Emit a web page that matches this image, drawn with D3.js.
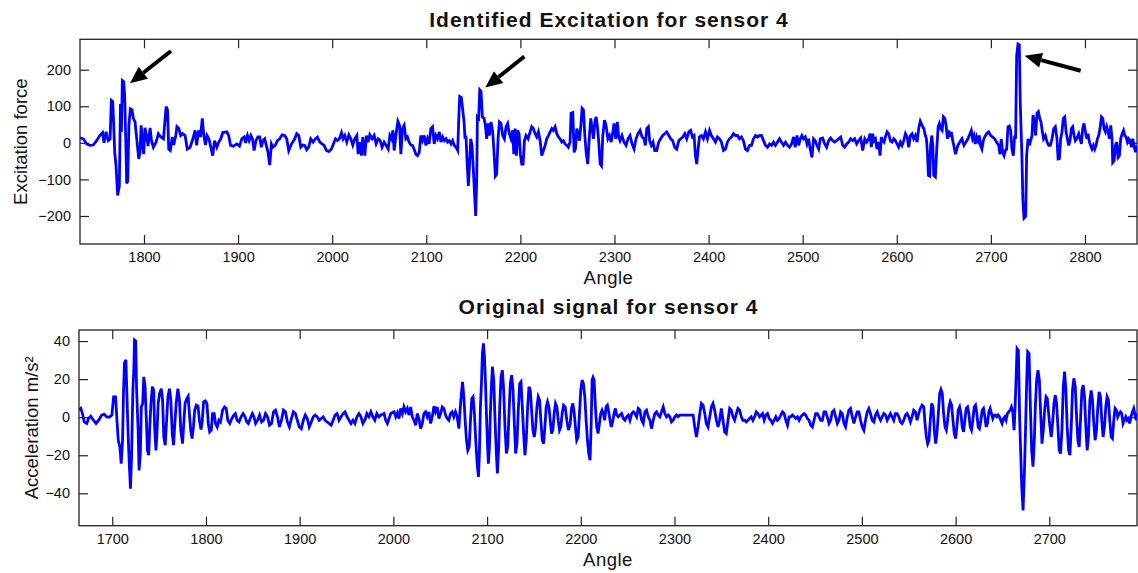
<!DOCTYPE html>
<html>
<head>
<meta charset="utf-8">
<script src="https://cdn.jsdelivr.net/npm/d3@7"></script>
<style>
  body { margin: 0; background: #fff; }
  svg { display: block; font-family: "Liberation Sans", Arial, sans-serif; }
  .tick text { fill: #111; }
</style>
</head>
<body>
<svg id="vis_canvas" width="1138" height="573"></svg>
<script>
// identified excitation, [angle, force]
var excitation = [
[1732,14],[1735.5,11],[1739,-3],[1742.6,-7],[1746,-6],[1749.7,6],[1753,20],[1756,28],[1757.5,0],[1759.7,30],[1762,6],[1764,11],[1765.3,116],[1766.8,113],[1767.8,48],[1768.9,-26],[1770.3,-63],[1772,-144],[1773.8,-118],[1775,106],[1776,30],[1777,170],[1778.5,167],[1779.5,127],[1780.6,11],[1781.6,-111],[1782.7,-105],[1784,48],[1785.5,93],[1787.3,90],[1788.7,67],[1790.5,57],[1792.3,11],[1794.4,-44],[1795.8,-26],[1797,48],[1798.3,2],[1799.7,-31],[1801,41],[1803,16],[1804.3,-9],[1806.5,41],[1808,6],[1810,-12],[1812.9,2],[1815.3,25],[1817.8,16],[1820.7,11],[1823.5,99],[1825,90],[1826.3,-17],[1828,-21],[1830,16],[1831.6,-6],[1833.8,20],[1835,44],[1837,39],[1839,20],[1841,25],[1843.7,20],[1846,-17],[1849,-12],[1852,11],[1854.3,34],[1856,-7],[1858,34],[1860,16],[1862,67],[1863.6,20],[1865.3,-6],[1867,20],[1869,11],[1871,-12],[1873,-35],[1875,6],[1877.4,-12],[1879.5,2],[1881.6,11],[1883.8,28],[1888,30],[1890,20],[1892,-7],[1895,-9],[1898.7,-3],[1901.5,-9],[1904,11],[1906.5,16],[1908,0],[1910,20],[1911.8,6],[1913.6,20],[1915.3,11],[1917,-21],[1919,6],[1921,16],
[1923,16],[1924.7,-12],[1926.5,6],[1928.3,11],[1930,-7],[1931.8,-26],[1933.6,-61],[1935.4,-3],[1937,-12],[1939.6,-6],[1941.8,6],[1944.2,11],[1946.7,22],[1949.6,20],[1951.7,11],[1953.8,-21],[1956,-7],[1958,2],[1960.2,11],[1962.3,25],[1964.5,20],[1966.6,-12],[1968.7,-6],[1970.9,-7],[1973,-19],[1975,-12],[1977.2,11],[1979.7,2],[1982.2,11],[1984.3,16],[1986.8,2],[1989.3,-3],[1991.4,-7],[1993.9,-21],[1996.4,-24],[1999.2,-17],[2001.3,-3],[2003.5,11],[2005.6,6],[2007.7,11],[2009.9,28],[2011.6,11],[2013.4,20],[2015.5,2],[2017.7,22],[2019.8,11],[2021.9,-6],[2024,11],[2026.2,20],[2027.6,-31],[2029.4,2],[2031.1,-35],[2032.5,16],[2034.7,-35],[2036.4,20],[2038.2,2],[2040,22],[2042.5,11],[2044.6,20],[2046.7,-3],[2048.9,11],[2051,6],[2053,-12],[2055.2,2],[2057.4,-7],[2059.5,-17],[2061.3,20],[2063,11],[2064.5,34],[2065.9,-21],[2067.7,20],[2069.8,59],[2071.6,48],[2073,-31],[2074.7,39],[2076.5,48],[2078.3,11],[2080,16],[2081.8,2],[2083.6,-6],[2085.4,-7],[2087,-17],[2088.9,-31],[2090.7,-35],[2092.5,-26],[2094.2,20],[2096,6],[2097.8,20],[2099.6,-7],[2101.3,11],[2103,-3],[2104.9,39],[2106.7,44],[2108.4,-3],[2110.2,20],
[2112,11],[2113.8,30],[2115.6,2],[2117.4,16],[2119.2,6],[2121,11],[2122.7,2],[2124.5,6],[2126.3,-3],[2128,6],[2129.8,-7],[2131.6,-12],[2133.4,-21],[2134.4,57],[2135.5,127],[2137.3,124],[2138.7,90],[2140,62],[2141.2,11],[2142.2,20],[2143.3,-49],[2144.7,-118],[2146.1,-54],[2147.2,11],[2148.6,-7],[2150,-72],[2151.4,-146],[2152.5,-200],[2153.6,-100],[2154.3,71],[2155.7,67],[2156.8,145],[2158.2,141],[2159.6,71],[2161.4,67],[2162.8,48],[2164.2,11],[2165.6,53],[2167,20],[2168.8,57],[2170.6,30],[2172,-26],[2173.4,-91],[2174.8,-86],[2176.3,11],[2177.7,57],[2179.4,53],[2181.2,20],[2183,11],[2184.8,44],[2186.5,53],[2188.3,25],[2190,11],[2191.9,34],[2193,-31],[2194.4,39],[2195.8,-35],[2197.2,34],[2198.6,25],[2200,-31],[2201.4,-58],[2202.9,-58],[2204.3,6],[2206,20],[2208.2,11],[2210.3,30],[2212,44],[2213.8,39],[2215.6,25],[2217.4,16],[2219.2,30],[2221,6],[2222.7,-35],[2224.5,-21],[2226.3,-7],[2228,11],[2229.8,20],[2231.6,30],[2233.4,39],[2235,34],[2236.9,44],[2238.7,25],[2240.4,16],[2242.2,11],[2244,2],[2245.8,6],[2247.5,-3],[2249.3,-7],[2251,-12],[2252.8,2],[2253.9,81],[2255.7,83],[2257.1,-26],[2258.5,-17],[2260,39],[2261.4,25],[2262.8,6],[2264.2,44],[2265.6,94],[2267,90],[2268.5,20],[2269.9,-26],[2271.6,-58],[2273.4,20],[2274.8,67],[2276.2,39],[2277.7,11],[2279.1,57],[2280.5,71],[2281.9,44],[2283.3,2],[2284.8,-58],[2286.2,-63],[2287.6,20],[2289.4,62],[2291,48],[2293,11],[2294.7,20],[2296.5,2],[2298.3,30],
[2299.5,53],[2301.3,11],[2303,57],[2304.5,16],[2305.9,6],[2308,20],[2310.1,2],[2312.3,-7],[2314.4,11],[2316.5,20],[2318.7,-3],[2320.8,-17],[2322.9,11],[2325,25],[2327.2,34],[2329.3,16],[2331.4,11],[2332.8,-7],[2334.3,39],[2336,44],[2337.4,6],[2339.2,-7],[2341,2],[2342.8,-21],[2344.9,-21],[2347,2],[2349.1,11],[2351.3,20],[2353.4,25],[2355.5,30],[2357.7,20],[2359.8,11],[2361.9,6],[2364,-12],[2366.2,-17],[2368.3,6],[2370.4,11],[2372.6,16],[2374.7,25],[2376.8,11],[2379,30],[2381,34],[2382.8,16],[2384.6,20],[2386,-35],[2387.4,-58],[2388.9,-17],[2390.3,16],[2392.4,20],[2394.5,11],[2396.7,30],[2398.8,11],[2401,34],[2403,20],[2405.2,11],[2407.3,2],[2409.4,16],[2411.6,11],[2413.7,2],[2415.8,-21],[2418,-17],[2420,2],[2422.2,11],[2424.3,16],[2426.5,25],[2428.6,20],[2430.7,20],[2432.8,11],[2435,16],[2437,6],[2439.2,-17],[2441.3,-21],[2443.5,-7],[2445.6,-7],[2447.7,11],[2449.9,20],[2452,16],[2454.1,20],[2456.2,20],[2458.4,6],[2460.5,-7],[2462.6,-12],[2464.8,-3],[2466.9,-7],[2469,2],[2471.1,-7],[2473.3,2],[2475.4,11],[2477.5,2],[2479.7,-7],[2481.8,2],[2484,-7],[2486,-12],[2488.2,-3],
[2490.4,16],[2492.1,-12],[2494,20],[2495.7,-7],[2497.5,11],[2499.2,20],[2501,11],[2502.8,16],[2504.6,-3],[2506.3,11],[2508,-17],[2509.9,-40],[2511.6,11],[2513.4,6],[2515.2,-7],[2517,-17],[2518.7,11],[2521.2,13],[2523.4,-3],[2525.5,-12],[2527.6,6],[2529.7,13],[2531.9,6],[2534,2],[2536.1,6],[2538.2,11],[2540.4,16],[2542.5,-6],[2544.6,-12],[2546.8,-3],[2548.9,2],[2551,11],[2553.1,6],[2555.3,11],[2557.4,-3],[2559.5,6],[2561.7,13],[2563.8,-21],[2566,11],[2568,2],[2570.2,11],[2571.6,25],[2573,-12],[2574.4,25],[2575.8,6],[2577.3,11],[2579,-17],[2580.8,2],[2582.2,-35],[2583.6,16],[2585,6],[2586.5,2],[2587.9,16],[2589.7,30],[2591.4,25],[2593.2,6],[2595,2],[2596.8,11],[2598.5,6],[2600.3,-3],[2602,-12],[2603.9,2],[2605.6,-7],[2607.4,6],[2609.2,25],[2611,16],[2612.7,-12],[2614.5,20],[2616.3,25],[2618,11],[2619.8,20],[2621.6,2],[2623.3,39],[2625,59],[2626.9,48],[2628.7,39],[2630.4,20],[2631.5,11],[2632.6,-26],[2633.6,-89],[2635,-91],[2636,-7],[2637.2,20],[2638.3,-7],[2639.3,-89],[2641,-93],[2642.5,-17],[2644,44],[2645.3,53],[2646.8,39],[2648.2,34],[2649.6,71],[2651,67],[2652.4,48],[2653.9,11],[2655.3,34],[2656.7,16],[2658,30],[2659.5,6],[2661,-12],[2662.4,-31],[2663.8,-17],
[2665,-7],[2667,2],[2669.3,11],[2671.4,-7],[2673.5,2],[2675.6,11],[2677.8,25],[2679.2,34],[2680.6,11],[2682,20],[2683.4,-3],[2684.9,16],[2686.3,6],[2687.7,20],[2689,-7],[2690.5,-17],[2692,6],[2693.4,16],[2695.5,25],[2697.6,30],[2699.8,20],[2702,16],[2704,11],[2706,2],[2708.3,-7],[2709.7,-31],[2711,11],[2712.5,-26],[2714,-35],[2715.4,-21],[2716.8,-17],[2718.2,44],[2719.6,46],[2721,34],[2722.4,-17],[2723.9,-35],[2725.3,20],[2726.3,11],[2727.4,238],[2728.8,270],[2730.2,268],[2731.3,104],[2732.4,11],[2733,-35],[2734,-156],[2735.2,-206],[2737,-201],[2738,-35],[2739.5,11],[2740.9,-7],[2742.3,6],[2743.7,20],[2744.8,76],[2746.2,57],[2747.6,20],[2749,81],[2750.5,85],[2751.9,67],[2753.3,57],[2754.7,30],[2756,11],[2757.9,20],[2759.7,2],[2761.5,-7],[2763.2,-7],[2765,11],[2766.8,39],[2768.5,44],[2770.3,11],[2771.4,-44],[2772.8,-43],[2774.2,11],[2775.6,30],[2777,67],[2778.5,71],[2779.9,30],[2781.3,11],[2782.7,-7],[2784.1,6],[2785.6,39],[2787,44],[2788.4,20],[2789.8,6],[2791.2,11],[2793.4,25],[2794.8,11],[2796.2,-3],[2797.6,39],[2799,53],[2800.5,30],[2801.9,11],[2803.3,25],[2804.7,2],[2806,-7],[2807.5,-17],[2809,-7],[2810.4,-17],[2811.8,-7],[2813.2,11],[2814.6,20],[2816,39],[2817.5,71],[2818.9,67],[2820.3,39],[2821.7,30],[2823.1,44],[2824.6,30],[2826,11],[2827.4,48],[2828.8,11],[2829.5,-54],[2831,-49],[2832.4,-7],[2833.8,2],[2835.2,-40],[2836.6,-35],[2838,11],[2839.5,25],[2841,34],[2842.3,20],[2843.7,16],[2845.1,2],[2846.5,11],[2848,6],[2849.4,-12],[2850.8,11],[2852.2,-7],[2853.6,-26],[2855,-7]
];

// measured acceleration, [angle, m/s^2]
var acceleration = [
[1664.7,3.7],[1666.4,4.6],[1668.2,1.9],[1670,-2.5],[1672.8,-3.3],[1674.6,-0.7],[1677,0.5],[1679.9,-1.6],[1682.7,-3.3],[1685.5,-1.6],[1688.7,1.1],[1691.2,1.6],[1694,0.2],[1696.8,0],[1699.6,1.1],[1701.4,10.7],[1703.5,10.7],[1705,-1.6],[1706.4,-12.1],[1708.1,-15.6],[1709.5,-24.4],[1711,-12.1],[1712,13.3],[1713,28.4],[1714.5,30.2],[1715.5,14.2],[1717,-10.4],[1718,-22.6],[1719.4,-37.5],[1720.5,-22.6],[1722,14.2],[1723,24.7],[1723.7,40.5],[1725,40],[1726,14.2],[1727.6,-6.8],[1728.6,-28],[1730,-19.1],[1731,5.4],[1732.5,7.2],[1733.6,21.2],[1735,16],[1736.4,-1.6],[1737.5,-17.4],[1738.9,-20],[1740,-5.1],[1741.3,7.2],[1742.8,16],[1744.2,14.2],[1745.2,-5.1],[1746.6,-17.4],[1747.7,-8.6],[1749,7.2],[1750.5,12.5],[1752.3,15],[1753.7,9],[1755,-10.4],[1756.5,-14.7],[1758,-1.6],[1759.4,10.7],[1761,15],[1762.5,9],[1764,-8.6],[1765.4,-14.7],[1766.8,-3.3],[1768.2,7.2],[1770,15],[1771.7,9],[1773.1,-6.8],[1775,-13.9],[1776.3,-3.3],[1777.7,7.2],[1779.5,9.8],[1781,11],[1782.3,1.9],[1783.7,-6.8],[1785.2,-11.2],[1786.6,-5.1],[1788,3.7],[1789.8,6.3],[1791.5,5.8],[1793,-1.6],[1794.7,-6.5],[1796.1,-1.6],[1797.5,8.1],[1799.3,8.6],[1801,7.2],[1802.5,-3.3],[1804,-7.7],[1805.7,-6.8],[1807,1.9],[1808.8,1.9],[1810.2,-3.3],[1812,-5.1],[1813.8,-1.6],[1815.5,-2.5],[1817.7,3.7],[1819.8,5.4],[1821.6,4.6],[1823.3,-1.6],[1825.4,-3.3],[1827.6,-0.7],[1829.7,1.1],[1831.4,1.9],[1833.2,-1.6],[1835.3,-2.5],
[1837.5,0.2],[1839.6,1.9],[1841.7,0.2],[1843.5,-2.5],[1845.2,-3.3],[1847.3,-0.7],[1849.5,1.9],[1851.2,0.2],[1853,-3.3],[1855.1,-1.6],[1857.2,1.1],[1859.4,-2.5],[1861.5,-1.6],[1863.6,1.9],[1865.7,0.2],[1867.8,-4.2],[1870,-3.3],[1872.1,2.8],[1874.2,3.7],[1876.3,0.2],[1878.4,-5.1],[1880.6,-1.6],[1882.7,3.7],[1884.8,2.8],[1886.9,-2.5],[1889,-5.1],[1891.2,-0.7],[1893.3,2.8],[1895.4,1.9],[1897.5,-1.6],[1899.6,-5.1],[1901.8,-6],[1903.9,-1.6],[1906,1.1],[1908.1,-0.7],[1910.2,-5.1],[1912.4,-2.5],[1914.5,0.2],[1916.6,1.1],[1918.7,0.2],[1920.8,-1.6],[1923,-0.7],[1925.1,0.2],[1927.2,-1.6],[1929.3,-2.5],[1931.4,-3.3],[1933.6,-4.2],[1935.7,-1.6],[1937.8,1.1],[1939.9,1.9],[1942,-1.6],[1944.2,0.2],[1946.3,1.9],[1948.4,2.8],[1950.5,0.2],[1952.7,-1.6],[1954.8,-3.3],[1956.9,-1.6],[1959,-3.3],[1961.1,0.2],[1963.3,1.9],[1965.4,0.2],[1967.5,-3.3],[1969.6,-1.6],[1971.7,1.9],[1973.9,0.2],[1976,2.8],[1978.1,0.2],[1980.2,-1.6],[1982.3,1.9],[1984.5,0.2],
[1986.5,1.1],[1990.1,1.9],[1991.8,-1.6],[1993.6,-3.3],[1997.2,1.9],[2000.7,2.8],[2002.5,0.2],[2004.3,2.3],[2006,-0.7],[2007.8,4.6],[2009.6,1.9],[2011.3,5.4],[2013.1,2.8],[2014.9,4.6],[2016.7,1.1],[2018.4,5.4],[2020.2,0.2],[2022,-1.6],[2023.8,-4.2],[2025.5,1.9],[2027.3,-0.7],[2029.1,-6],[2030.9,-3.3],[2032.6,1.9],[2034.4,2.8],[2036.2,0.2],[2037.9,2.8],[2039.7,-3.3],[2041.5,0.2],[2043.3,5.8],[2045,2.8],[2046.8,5.4],[2048.6,-0.7],[2050.4,1.9],[2052.1,5.4],[2053.9,4.6],[2055.7,1.1],[2057.4,-0.7],[2059.2,-1.6],[2061,1.9],[2062.8,2.8],[2064.5,0.2],[2066.3,2.8],[2068.1,0.2],[2069.9,-6],[2070.9,1.9],[2072.3,10.7],[2073.8,18.6],[2075.2,10.7],[2076.6,-1.6],[2078,-12.1],[2079.4,-17.4],[2080.9,-15.6],[2082.3,-1.6],[2083.7,9.8],[2085.1,10.7],[2086.5,1.9],[2087.9,-12.1],[2089.4,-24.4],[2090.8,-31.4],[2091.8,-19.1],[2092.9,5.4],[2094,17.7],[2095,33.5],[2096.1,38.8],[2097.2,31.8],[2098.2,19.5],[2099.3,1.9],[2100.4,-13.9],[2101.4,-24.4],[2102.5,-15.6],[2103.5,1.9],[2104.6,16],[2105.7,26.5],[2107.1,19.5],[2108.5,-1.6],[2109.9,-19.1],[2111,-29.6],[2112.4,-15.6],[2113.5,5.4],[2114.9,21.2],[2116.3,24.7],[2117.7,14.2],[2119.1,-5.1],[2120.6,-19.1],[2122,-15.6],[2123.4,1.9],[2124.8,17.7],[2126.2,22.1],[2127.7,14.2],[2129.1,-3.3],[2130.5,-19.1],[2131.9,-13.9],[2133.3,3.7],[2134.8,17.7],[2136.2,18.6],[2137.6,5.4],[2139,-8.6],[2140.4,-20],[2141.8,-12.1],[2143.3,5.4],[2144.7,16],[2146.1,14.2],[2147.5,3.7],[2148.9,-6.8],[2150.4,-10.4],[2151.8,-5.1],[2153.2,5.4],[2154.6,10.7],[2156,9],[2157.4,-1.6],[2158.9,-12.1],[2160.3,-13.9],[2161.7,-5.1],[2163.1,5.4],[2164.5,8.1],[2166,5.4],[2167.4,-1.6],[2168.8,-8.6],[2170.2,-6.8],[2171.6,1.9],[2173,7.2],[2174.5,5.4],[2175.9,-1.6],[2177.3,-6.8],[2178.7,-5.1],[2180.1,1.9],[2181.6,6.3],[2183.3,5.4],[2185.1,-1.6],[2186.9,-6.8],[2188.7,-3.3],[2190.1,4.6],[2191.5,7.2],[2192.9,2.8],[2194.3,-5.1],[2195.7,-12.1],[2197.2,-10.4],[2198.6,1.9],[2200,14.2],[2201.4,19.5],[2202.8,17.7],[2204.3,10.7],[2205.7,-1.6],[2207.1,-12.1],[2208.5,-19.1],[2209.9,-22.6],[2211,-5.1],[2212.1,19.5],[2213.1,20.9],[2214.2,19.5],[2215.6,5.4],[2217,-5.1],[2218.4,-8.6],[2219.9,-3.3],[2221.3,1.9],[2222.7,3.7],[2224.1,1.9],[2225.5,-1.6],[2227,5.4],[2228.4,6.3],[2229.8,2.8],[2231.2,-1.6],[2232.6,-5.1],[2234,-2.5],[2235.5,1.9],[2236.9,4.6],[2238.3,1.1],[2240.1,0.2],[2241.8,1.1],[2243.6,1.9],[2245.4,-0.7],[2247.2,-1.6],[2248.9,0.2],[2250.7,1.1],[2252.5,-1.6],[2254.3,1.9],[2256,2.8],[2257.8,1.9],[2259.6,0.2],[2261.3,4.6],[2263.1,3.7],[2264.9,-1.6],[2266.7,-3.3],[2268.4,2.8],[2270.2,3.7],[2272,0.2],[2273.8,-1.6],[2275.5,-6],[2277.3,-1.6],[2279.1,1.9],[2280.9,2.8],[2282.6,1.1],[2284.4,0.2],[2286.2,2.8],[2288,5.4],[2289.7,1.9],[2291.5,0.2],[2293.3,1.1],[2295,0.2],[2296.8,-2.5],[2298.6,-1.6],[2300.4,0.2],[2302.1,1.1],[2303.9,0.2],[2305.7,1.1],[2319.9,1.1],[2321.6,-5.1],[2323.4,-10.4],[2325.2,-5.1],[2327,1.9],[2328.7,7.2],[2330.5,6.3],[2332.3,1.9],[2334,-3.3],[2335.8,-5.1],[2337.6,0.2],[2339.4,5.4],[2341.1,7.2],[2342.9,3.7],[2344.7,-1.6],[2346.5,-5.1],[2348.2,-1.6],[2350,4.6],[2351.8,-1.6],[2353.5,-7.7],[2355.3,-8.6],[2357.1,-1.6],[2358.9,4.6],[2360.6,3.7],[2362.4,0.2],[2364.2,-1.6],[2366,1.9],[2367.7,4.6],[2369.5,3.7],[2371.3,0.2],[2373,-1.6],[2374.8,-1.6],[2376.6,-2.5],[2378.4,-1.6],[2380.1,-0.7],[2381.9,0.2],[2383.7,-1.6],[2385.5,0.2],[2387.2,2.8],[2389,1.9],[2390.8,0.2],
[2394,1.9],[2395.7,-1.6],[2397.5,1.1],[2399.3,1.9],[2401.1,-0.7],[2402.8,-1.6],[2404.6,-3.3],[2406.4,-1.6],[2408.2,0.2],[2409.9,-1.6],[2411.7,-0.7],[2413.5,1.1],[2415.2,2.8],[2417,1.9],[2418.8,-1.6],[2420.6,-4.2],[2422.3,0.2],[2424.1,0.2],[2425.9,1.1],[2427.7,0.2],[2429.4,-0.7],[2431.2,0.2],[2433,-1.6],[2434.8,0.2],[2436.5,1.1],[2438.3,1.9],[2440.1,1.1],[2441.8,-0.7],[2443.6,-1.6],[2445.4,-4.2],[2447.2,-5.1],[2448.9,-1.6],[2450.7,1.9],[2452.5,1.9],[2454.3,0.2],[2456,-1.6],[2457.8,-1.6],[2459.6,2.8],[2461.3,2.8],[2463.1,0.2],[2464.9,-3.3],[2466.7,-1.6],[2468.4,2.8],[2470.2,3.7],[2472,0.2],[2473.8,-3.3],[2475.5,-1.6],[2477.3,2.8],[2479.1,1.9],[2480.9,-3.3],[2482.6,-5.1],[2484.4,0.2],[2486.2,3.7],[2487.9,4.6],[2489.7,0.2],[2491.5,-3.3],[2493.3,0.2],[2495,2.8],[2496.8,2.8],[2498.6,-1.6],[2500.4,-5.1],[2502.1,-6.8],[2503.9,-1.6],[2505.7,2.8],[2507.4,4.6],[2509.2,1.9],[2511,-1.6],[2512.8,-2.5],[2514.5,1.1],[2516.3,2.8],[2518.1,0.2],[2519.9,-1.6],[2521.6,0.2],[2523.4,1.9],[2525.2,1.1],[2527,-1.6],[2528.7,0.2],[2530.5,1.9],[2532.3,0.2],[2534,-1.6],[2535.8,1.9],[2537.6,1.9],[2539.4,0.2],[2541.1,-2.5],[2542.9,-3.3],[2544.7,-1.6],[2546.5,1.1],[2548.2,1.9],[2550,0.2],[2551.8,-2.5],[2553.5,0.2],[2555.3,3.7],[2557.1,2.8],[2558.9,-1.6],[2560.6,1.9],[2562.4,4.6],[2564.2,6.3],[2566,5.4],[2567.4,-3.3],[2568.8,-10.4],[2570.2,-13.9],[2571.6,-12.1],[2573,-1.6],[2574.5,7.2],[2575.9,5.4],[2577.3,-6.8],[2578.7,-13.9],[2580.1,-8.6],[2581.6,1.9],[2583,12.5],[2584.4,14.6],[2585.8,12.5],[2587.2,1.9],[2588.7,-5.1],[2590.1,-6.8],[2591.5,-1.6],[2592.9,5.4],[2594.3,8.1],[2595.7,6.3],[2597.2,-1.6],[2598.6,-8.6],[2600,-11.2],[2601.4,-5.1],[2602.8,3.7],[2604.3,5.4],[2605.7,1.9],[2607.1,-5.1],[2608.5,-7.7],[2609.9,-1.6],[2611.3,4.6],[2612.8,5.4],[2614.2,1.9],[2615.6,-5.1],[2617,-6.8],[2618.4,-1.6],[2619.9,5.4],[2621.3,6.3],[2622.7,1.9],[2624.1,-5.1],[2625.5,-6],[2627,-1.6],[2628.4,3.7],[2629.8,4.6],[2631.2,0.2],[2632.6,-5.1],[2634,-3.3],[2635.5,2.8],[2636.9,4.6],[2638.3,1.9],[2639.7,-0.7],[2641.1,1.1],[2642.6,1.1],[2644,0.2],[2645.4,1.1],[2646.8,0.2],[2648.2,-1.6],[2649.6,-3.3],[2651.1,-0.7],[2652.5,0.2],[2653.9,-1.6],[2655.3,1.9],[2656.7,2.8],[2658.2,3.7],[2659.6,5.4],[2661,2.8],[2662.4,-6.8],[2663.5,5.4],[2664.5,19.5],[2665.6,36],[2667,35],[2668.4,-1.6],[2669.5,-19.1],[2670.6,-36.7],[2672,-49],[2673.4,-29.6],[2674.8,-3.3],[2675.9,19.5],[2676.9,34.4],[2678.4,33.5],[2679.8,5.4],[2681.2,-17.4],[2682.6,-26],[2684,-12.1],[2685.1,5.4],[2686.5,19.5],[2687.9,24.7],[2689.4,19.5],[2690.8,1.9],[2692.2,-13.9],[2693.6,-6.8],[2695,3.7],[2696.5,10.7],[2697.9,9.8],[2699.3,1.9],[2700.7,-5.1],[2702.1,-10.4],[2703.5,-3.3],[2705,7.2],[2706.4,11.6],[2707.8,7.2],[2709.2,-5.1],[2710.6,-17.4],[2712,-19.1],[2713.5,-6.8],[2714.9,16],[2716.3,23.9],[2717.7,14.2],[2719.1,-5.1],[2720.6,-17.4],[2722,-20],[2723.4,-5.1],[2724.8,14.2],[2726.2,20.4],[2727.7,16],[2729.1,0.2],[2730.5,-12.1],[2731.9,-15.6],[2733.3,-1.6],[2734.8,14.2],[2736.2,16.8],[2737.6,10.7],[2739,-5.1],[2740.4,-17.4],[2741.8,-10.4],[2743.3,9],[2744.7,14],[2746.1,9],[2747.5,-3.3],[2748.9,-12.1],[2750.4,-6.8],[2751.8,5.4],[2753.2,13.3],[2754.6,10.7],[2756,-1.6],[2757.4,-10.4],[2758.9,-5.1],[2760.3,5.4],[2761.7,10.7],[2763.1,9],[2764.5,-1.6],[2766,-10.4],[2767.4,-11.2],[2768.8,-1.6],[2770.2,4.6],[2771.6,3.7],[2773,0.2],[2774.5,1.9],[2775.9,2.8],[2777.3,1.9],[2778.7,-3.3],[2780.1,-1.6],[2781.6,0.2],[2783,-1.6],[2784.4,-0.7],[2785.8,-3.3],[2787.2,0.2],[2788.7,2.8],[2790.1,4.6],[2791.5,1.1],[2792.9,-1.6],[2794.3,2]
];

// axis ticks
var excTicksX = [1800, 1900, 2000, 2100, 2200, 2300, 2400, 2500, 2600, 2700, 2800];
var excTicksY = [-200, -100, 0, 100, 200];
var accTicksX = [1700, 1800, 1900, 2000, 2100, 2200, 2300, 2400, 2500, 2600, 2700];
var accTicksY = [-40, -20, 0, 20, 40];

// arrows pointing at the impacts, [angle, force]
var arrowTips = [[1785.1, 163], [2162.7, 151], [2735.9, 238]];
var arrowTails = [[1828.7, 251], [2204.2, 236], [2795.4, 197]];

var svg = d3.select("#vis_canvas");

function drawPanel(opts) {
    var x = d3.scaleLinear().domain(opts.xDomain).range([opts.left, opts.right]);
    var y = d3.scaleLinear().domain(opts.yDomain).range([opts.bottom, opts.top]);
    var g = svg.append("g");
    var fmt = d3.format("d");

    g.append("clipPath").attr("id", opts.id + "_clip")
        .append("rect")
        .attr("x", opts.left).attr("y", opts.top)
        .attr("width", opts.right - opts.left).attr("height", opts.bottom - opts.top);

    var tick = 9;
    var axes = [
        [d3.axisBottom(x).tickValues(opts.ticksX).tickFormat(fmt).tickSize(-tick).tickPadding(8), "translate(0," + opts.bottom + ")"],
        [d3.axisTop(x).tickValues(opts.ticksX).tickSize(-tick).tickFormat(""), "translate(0," + opts.top + ")"],
        [d3.axisLeft(y).tickValues(opts.ticksY).tickFormat(fmt).tickSize(-tick).tickPadding(9), "translate(" + opts.left + ",0)"],
        [d3.axisRight(y).tickValues(opts.ticksY).tickSize(-tick).tickFormat(""), "translate(" + opts.right + ",0)"]
    ];
    axes.forEach(function(a) {
        var ag = g.append("g").attr("transform", a[1]).call(a[0].tickSizeOuter(0));
        ag.select(".domain").remove();
        ag.selectAll("line").attr("stroke", "#222").attr("stroke-width", 1.2);
        ag.selectAll("text").attr("font-size", 14.5).attr("font-family", "Liberation Sans, Arial, sans-serif");
    });

    g.append("rect")
        .attr("x", opts.left).attr("y", opts.top)
        .attr("width", opts.right - opts.left).attr("height", opts.bottom - opts.top)
        .attr("fill", "none").attr("stroke", "#222").attr("stroke-width", 1.3);

    var line = d3.line()
        .x(function(d) { return x(d[0]); })
        .y(function(d) { return y(d[1]); });

    g.append("path")
        .datum(opts.data)
        .attr("clip-path", "url(#" + opts.id + "_clip)")
        .attr("d", line)
        .attr("fill", "none")
        .attr("stroke", "#0000ff")
        .attr("stroke-width", 2.8);

    g.append("text")
        .attr("x", (opts.left + opts.right) / 2 + 0.5).attr("y", opts.titleY)
        .attr("text-anchor", "middle")
        .attr("font-size", 21).attr("font-weight", "bold")
        .attr("letter-spacing", 1).attr("fill", "#111")
        .text(opts.title);

    g.append("text")
        .attr("x", (opts.left + opts.right) / 2).attr("y", opts.bottom + 40)
        .attr("text-anchor", "middle")
        .attr("font-size", 18.5).attr("letter-spacing", 0.5).attr("fill", "#111")
        .text("Angle");

    g.append("text")
        .attr("transform", "translate(" + opts.ylabelX + "," + ((opts.top + opts.bottom) / 2) + ") rotate(-90)")
        .attr("text-anchor", "middle")
        .attr("font-size", 18.5).attr("fill", "#111")
        .text(opts.ylabel);

    return {x: x, y: y, g: g};
}

var top_panel = drawPanel({
    id: "exc", data: excitation,
    left: 80, right: 1137, top: 39.3, bottom: 244,
    xDomain: [1732, 2855.3], yDomain: [-276.6, 283.1],
    ticksX: excTicksX, ticksY: excTicksY,
    title: "Identified Excitation for sensor 4", titleY: 27,
    ylabel: "Excitation force", ylabelX: 27
});

drawPanel({
    id: "acc", data: acceleration,
    left: 79, right: 1137, top: 330, bottom: 525.7,
    xDomain: [1664.5, 2793.6], yDomain: [-57, 45.8],
    ticksX: accTicksX, ticksY: accTicksY,
    title: "Original signal for sensor 4", titleY: 314,
    ylabel: "Acceleration m/s\u00b2", ylabelX: 38
});

// arrows
arrowTips.forEach(function(tip, i) {
    var tx = top_panel.x(tip[0]), ty = top_panel.y(tip[1]);
    var sx = top_panel.x(arrowTails[i][0]), sy = top_panel.y(arrowTails[i][1]);
    var len = Math.sqrt((sx - tx) * (sx - tx) + (sy - ty) * (sy - ty));
    var ux = (sx - tx) / len, uy = (sy - ty) / len;
    var headLen = 17, headW = 7.5;
    var bx = tx + ux * headLen, by = ty + uy * headLen;
    top_panel.g.append("line")
        .attr("x1", sx).attr("y1", sy).attr("x2", bx).attr("y2", by)
        .attr("stroke", "#000").attr("stroke-width", 4);
    top_panel.g.append("path")
        .attr("d", "M" + tx + "," + ty +
            "L" + (bx - uy * headW) + "," + (by + ux * headW) +
            "L" + (bx + uy * headW) + "," + (by - ux * headW) + "Z")
        .attr("fill", "#000");
});
</script>
</body>
</html>
